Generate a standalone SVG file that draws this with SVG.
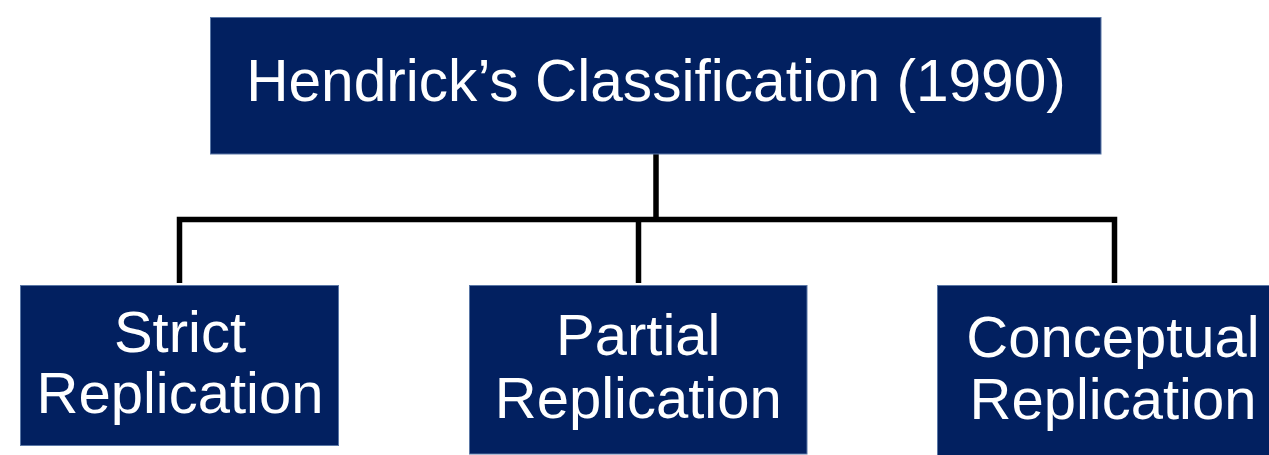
<svg xmlns="http://www.w3.org/2000/svg" width="1269" height="455" viewBox="0 0 1269 455">
<style>
.box{fill:#022060;stroke:#5a77a6;stroke-width:1}
.t{fill:#ffffff;font-family:"Liberation Sans",Arial,sans-serif;font-size:58px;text-anchor:middle}
.c{fill:none;stroke:#000000;stroke-width:5.5;stroke-linecap:butt;stroke-linejoin:miter}
</style>
<rect width="1269" height="455" fill="#ffffff"/>
<g id="connectors">
<path class="c" d="M656,154 V220"/>
<path class="c" d="M179.5,283 V219.5 H1114.5 V283"/>
<path class="c" d="M638.5,219.5 V283"/>
</g>
<g id="top">
<rect class="box" x="210.5" y="17.5" width="890.5" height="136.5"/>
<text class="t" x="656" y="101" style="font-size:58.6px">Hendrick’s Classification (1990)</text>
</g>
<g id="strict">
<rect class="box" x="20.5" y="285.5" width="318" height="160"/>
<text class="t" x="180" y="352">Strict</text>
<text class="t" x="180" y="413">Replication</text>
</g>
<g id="partial">
<rect class="box" x="469.5" y="285.5" width="337.5" height="168.5"/>
<text class="t" x="638.3" y="355">Partial</text>
<text class="t" x="638.3" y="418">Replication</text>
</g>
<g id="conceptual">
<rect class="box" x="937.5" y="285.5" width="350" height="175"/>
<text class="t" x="1113" y="356.5">Conceptual</text>
<text class="t" x="1113" y="419">Replication</text>
</g>
</svg>
